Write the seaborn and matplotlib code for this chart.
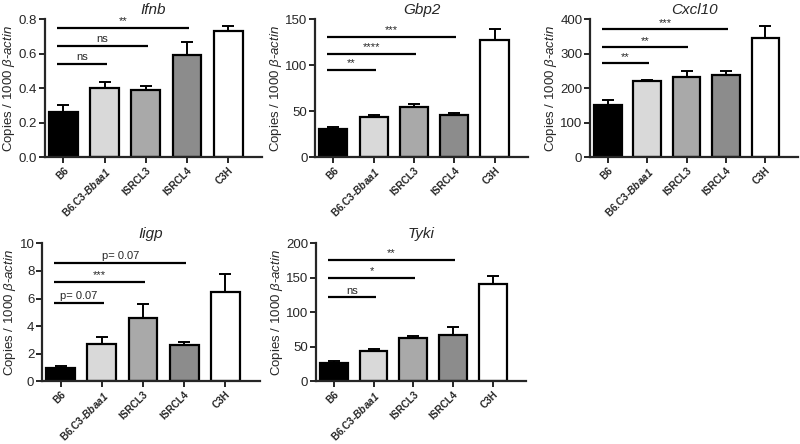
import numpy as np
import pandas as pd
import matplotlib
matplotlib.use("Agg")
import matplotlib.pyplot as plt
import seaborn as sns

# ── data ─────────────────────────────────────────────────
strains = ["B6", "B6.C3-Bbaa1", "ISRCL3", "ISRCL4", "C3H"]
strain_labels = ["B6", r"B6.C3-$\mathbfit{Bbaa1}$", "ISRCL3", "ISRCL4", "C3H"]
bar_colors = ["#000000", "#d9d9d9", "#a9a9a9", "#8c8c8c", "#ffffff"]

ifnb_mean = [0.26, 0.40, 0.39, 0.59, 0.73]
ifnb_sem = [0.04, 0.035, 0.02, 0.08, 0.03]
ifnb_sig_y = [0.54, 0.645, 0.75]
ifnb_sig_txt = ["ns", "ns", "**"]

gbp2_mean = [31, 44, 54, 46, 127]
gbp2_sem = [2, 1.5, 4, 1.5, 12]
gbp2_sig_y = [95, 112, 131]
gbp2_sig_txt = ["**", "****", "***"]

cxcl10_mean = [150, 221, 232, 238, 346]
cxcl10_sem = [15, 3, 18, 12, 33]
cxcl10_sig_y = [272, 318, 370]
cxcl10_sig_txt = ["**", "**", "***"]

iigp_mean = [1.0, 2.7, 4.6, 2.6, 6.45]
iigp_sem = [0.1, 0.55, 1.0, 0.25, 1.35]
iigp_sig_y = [5.7, 7.2, 8.6]
iigp_sig_txt = ["p= 0.07", "***", "p= 0.07"]

tyki_mean = [27, 44, 63, 67, 141]
tyki_sem = [3, 3, 3, 12, 11]
tyki_sig_y = [122, 150, 176]
tyki_sig_txt = ["ns", "*", "**"]

sns.set_style("ticks")
plt.rcParams["font.family"] = ["Liberation Sans", "DejaVu Sans"]
plt.rcParams["mathtext.fontset"] = "custom"
plt.rcParams["mathtext.rm"] = "Liberation Sans"
plt.rcParams["mathtext.it"] = "Liberation Sans:italic"
plt.rcParams["mathtext.bf"] = "Liberation Sans:bold"
plt.rcParams["mathtext.bfit"] = "Liberation Sans:italic:bold"

fig = plt.figure(figsize=(8, 4.44), dpi=100)

panels = [
    ("Ifnb", ifnb_mean, ifnb_sem, ifnb_sig_y, ifnb_sig_txt, (0, 0.8), np.arange(0, 0.81, 0.2), "{:.1f}",
     [0.056, 0.646, 0.272, 0.311]),
    ("Gbp2", gbp2_mean, gbp2_sem, gbp2_sig_y, gbp2_sig_txt, (0, 150), [0, 50, 100, 150], "{:.0f}",
     [0.394, 0.646, 0.266, 0.311]),
    ("Cxcl10", cxcl10_mean, cxcl10_sem, cxcl10_sig_y, cxcl10_sig_txt, (0, 400), [0, 100, 200, 300, 400], "{:.0f}",
     [0.7375, 0.646, 0.26, 0.311]),
    ("Iigp", iigp_mean, iigp_sem, iigp_sig_y, iigp_sig_txt, (0, 10), [0, 2, 4, 6, 8, 10], "{:.0f}",
     [0.0525, 0.141, 0.272, 0.311]),
    ("Tyki", tyki_mean, tyki_sem, tyki_sig_y, tyki_sig_txt, (0, 200), [0, 50, 100, 150, 200], "{:.0f}",
     [0.395, 0.141, 0.262, 0.311]),
]

for title, mean, sem, sig_y, sig_txt, ylim, yticks, fmt, pos in panels:
    ax = fig.add_axes(pos)
    df = pd.DataFrame({"strain": strains, "value": mean})
    sns.barplot(data=df, x="strain", y="value", hue="strain", palette=bar_colors,
                order=strains, edgecolor="black", linewidth=1.6, width=0.7,
                errorbar=None, legend=False, ax=ax)
    xs = np.arange(len(strains))
    ax.errorbar(xs, mean, yerr=[np.zeros(len(sem)), sem], fmt="none",
                ecolor="black", elinewidth=1.4, capsize=4.5, capthick=1.4, zorder=1)
    # significance bars: B6 vs each of strains 1..3
    for j, (yy, txt) in enumerate(zip(sig_y, sig_txt)):
        x0, x1 = -0.15, j + 1 + 0.05
        ax.plot([x0, x1], [yy, yy], color="black", lw=1.6, solid_capstyle="butt")
        ax.text((x0 + x1) / 2, yy + (ylim[1] * 0.012), txt, ha="center", va="bottom", fontsize=8)
    ax.set_xlim(-0.45, 4.83)
    ax.set_ylim(*ylim)
    ax.set_yticks(yticks)
    ax.set_yticklabels([fmt.format(t) for t in yticks], fontsize=9.5)
    ax.set_xticks(xs)
    ax.set_xticklabels(strain_labels, rotation=45, ha="right", rotation_mode="anchor",
                       fontsize=7.2, fontweight="bold")
    ax.set_xlabel("")
    ax.set_ylabel(r"Copies / 1000 $\mathit{\beta}$-$\mathit{actin}$", fontsize=9.5, labelpad=1)
    ax.set_title(title, fontsize=11, style="italic", pad=4)
    sns.despine(ax=ax)
    for s in ["left", "bottom"]:
        ax.spines[s].set_linewidth(1.6)
    ax.tick_params(width=1.4, length=4)
    ax.tick_params(axis="y", pad=1.5)
    ax.tick_params(axis="x", pad=2)

fig.savefig("out.png", dpi=100)
